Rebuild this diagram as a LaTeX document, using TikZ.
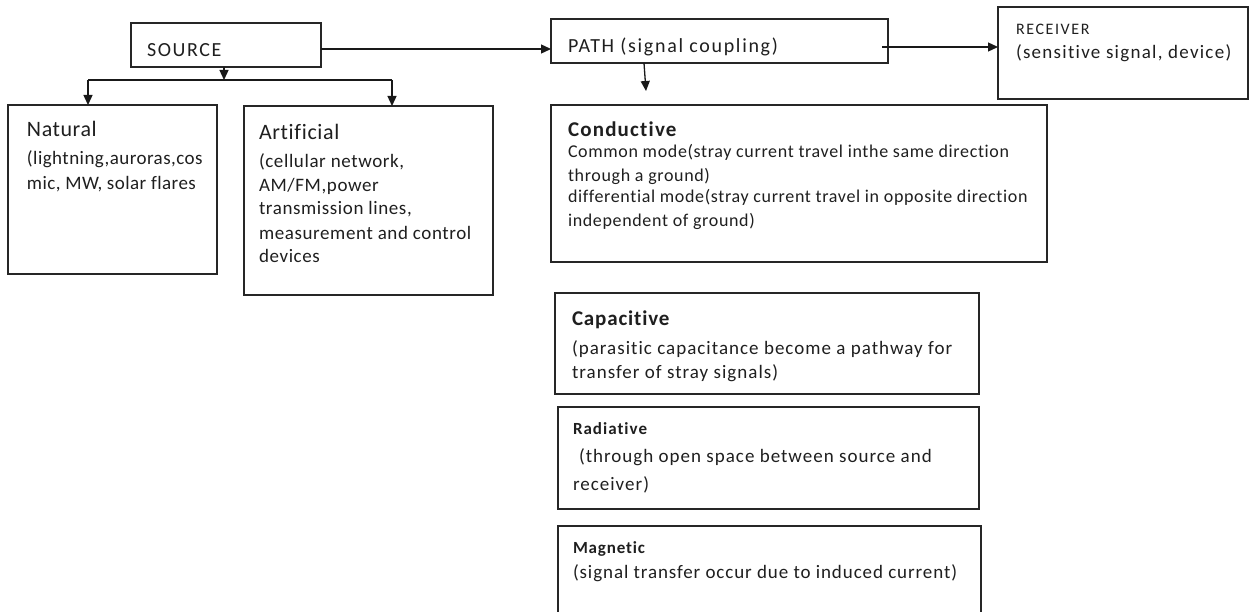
\documentclass[tikz,border=0pt]{standalone}
\usepackage{fontspec}
\setmainfont{Carlito}[RawFeature={-liga;-clig;-dlig}]
\usetikzlibrary{arrows.meta}
\begin{document}
\begin{tikzpicture}[x=1pt,y=-1pt,
  box/.style={draw=black!85,line width=1.3pt,inner sep=0pt,outer sep=0pt,anchor=north west},
  txt/.style={anchor=base west,inner sep=0pt,outer sep=0pt,text=black!88},
  conn/.style={draw=black!90,line width=1.3pt},
  arr/.style={conn,-{Triangle[length=10pt,width=9pt]}},
  fs/.style 2 args={font=\fontsize{#1}{#1}\selectfont\addfontfeature{LetterSpace=#2}},
  fb/.style 2 args={font=\fontsize{#1}{#1}\selectfont\bfseries\addfontfeature{LetterSpace=#2}}]
\useasboundingbox (0,0) rectangle (1250,612);
\clip (0,0) rectangle (1250,612);
\fill[white] (0,0) rectangle (1250,612);
% boxes
\node[box,minimum width=190pt,minimum height=44pt] (src) at (131,23) {};
\node[box,minimum width=337pt,minimum height=44pt] (path) at (551,19) {};
\node[box,minimum width=250pt,minimum height=92pt] (recv) at (998,7) {};
\node[box,minimum width=209pt,minimum height=169pt] (nat) at (8,105) {};
\node[box,minimum width=249pt,minimum height=189pt] (art) at (244,106) {};
\node[box,minimum width=496pt,minimum height=157pt] (cond) at (551,105) {};
\node[box,minimum width=424pt,minimum height=101pt] (cap) at (555,293) {};
\node[box,minimum width=421pt,minimum height=102pt] (rad) at (558,407) {};
\node[box,minimum width=423pt,minimum height=100pt] (mag) at (558,526) {};
% texts
\node[txt,fs={20}{8}] (tsrc) at (147,57) {SOURCE};
\node[txt,fs={20}{8.5}] (tpath) at (568,53) {PATH (signal coupling)};
\node[txt,fs={16}{10}] (trecv1) at (1016,35) {RECEIVER};
\node[txt,fs={19}{6.7}] (trecv2) at (1016,59) {(sensitive signal, device)};
\node[txt,fs={22}{2.6}] (tnat1) at (27,137) {Natural};
\node[txt,fs={19}{2.4}] (tnat2) at (27,165) {(lightning,auroras,cos};
\node[txt,fs={19}{2.4}] (tnat3) at (27,190) {mic, MW, solar flares};
\node[txt,fs={22}{3}] (tart1) at (259,140) {Artificial};
\node[txt,fs={19}{3.2}] (tart2) at (259,168) {(cellular network,};
\node[txt,fs={19}{3.2}] (tart3) at (259,192) {AM/FM,power};
\node[txt,fs={19}{3.2}] (tart4) at (259,215) {transmission lines,};
\node[txt,fs={19}{3.2}] (tart5) at (259,240) {measurement and control};
\node[txt,fs={19}{3.2}] (tart6) at (259,263) {devices};
\node[txt,fb={21}{5.7}] (tcond1) at (568,137) {Conductive};
\node[txt,fs={18}{3.6}] (tcond2) at (568,158) {Common mode(stray current travel inthe same direction};
\node[txt,fs={18}{3.6}] (tcond3) at (568,182) {through a ground)};
\node[txt,fs={18}{3.6}] (tcond4) at (568,203) {differential mode(stray current travel in opposite direction};
\node[txt,fs={18}{3.6}] (tcond5) at (568,227) {independent of ground)};
\node[txt,fb={21}{4}] (tcap1) at (572,325) {Capacitive};
\node[txt,fs={19}{5.4}] (tcap2) at (572,354) {(parasitic capacitance become a pathway for};
\node[txt,fs={19}{5.4}] (tcap3) at (572,378) {transfer of stray signals)};
\node[txt,fb={17}{5.9}] (trad1) at (573,434) {Radiative};
\node[txt,fs={19}{5.3}] (trad2) at (579,462) {(through open space between source and};
\node[txt,fs={19}{5.3}] (trad3) at (573,490) {receiver)};
\node[txt,fb={17}{5}] (tmag1) at (573,553) {Magnetic};
\node[txt,fs={19}{4.8}] (tmag2) at (573,578) {(signal transfer occur due to induced current)};
% connectors
\coordinate (jn) at (224,80);
\coordinate (jl) at (88,80);
\coordinate (jr) at (392,80);
\draw[arr] (src.east |- 0,49) -- (path.west |- 0,49);
\draw[arr] (src.south -| jn) -- (jn);
\draw[conn] (jl) -- (jr);
\draw[arr] (jl) -- (nat.north -| jl);
\draw[arr] (jr) -- (art.north -| jr);
\draw[arr] (path.south -| 644,0) -- (646,91) coordinate (pd);
\draw[arr] (882,47) -- (recv.west |- 0,47);
\end{tikzpicture}
\end{document}
